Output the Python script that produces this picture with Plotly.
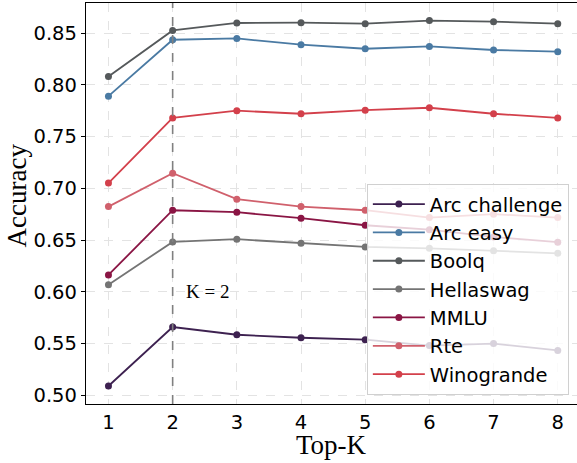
import plotly.graph_objects as go

top_k = [1, 2, 3, 4, 5, 6, 7, 8]
arc_challenge = [0.509, 0.566, 0.5585, 0.5556, 0.5537, 0.548, 0.550, 0.5434]
arc_easy = [0.789, 0.8435, 0.8448, 0.8387, 0.8348, 0.837, 0.8336, 0.832]
boolq = [0.808, 0.8525, 0.8597, 0.860, 0.859, 0.862, 0.861, 0.859]
hellaswag = [0.6069, 0.6482, 0.6508, 0.6469, 0.6433, 0.642, 0.6397, 0.6372]
mmlu = [0.6163, 0.6788, 0.6769, 0.6711, 0.6643, 0.660, 0.653, 0.6479]
rte = [0.6823, 0.7146, 0.6895, 0.6823, 0.6788, 0.6717, 0.675, 0.6717]
winogrande = [0.705, 0.768, 0.775, 0.772, 0.7755, 0.7778, 0.772, 0.768]

names = ["Arc challenge", "Arc easy", "Boolq", "Hellaswag", "MMLU", "Rte", "Winogrande"]
series = [arc_challenge, arc_easy, boolq, hellaswag, mmlu, rte, winogrande]
colors = ["#3d2150", "#4a7aa3", "#55595b", "#747474", "#8a1544", "#d0606c", "#d3404b"]

y_ticks = [0.50, 0.55, 0.60, 0.65, 0.70, 0.75, 0.80, 0.85]

fig = go.Figure()
for n, s, c in zip(names, series, colors):
    fig.add_trace(go.Scatter(
        x=top_k, y=s, name=n, mode="lines+markers",
        line=dict(color=c, width=1.8),
        marker=dict(color=c, size=7),
    ))

fig.add_vline(x=2, line=dict(color="#808080", width=1.6, dash="dash"))
fig.add_annotation(x=2.17, y=0.600, text="K = 2", showarrow=False,
                   xanchor="left", yanchor="middle",
                   font=dict(family="Liberation Serif", size=19, color="black"))
fig.add_annotation(x=0.5, y=-0.103, xref="paper", yref="paper", text="Top-K",
                   showarrow=False, xanchor="center", yanchor="middle",
                   font=dict(family="Liberation Serif", size=27, color="black"))
fig.add_annotation(x=-0.1405, y=0.52, xref="paper", yref="paper", text="Accuracy",
                   showarrow=False, xanchor="center", yanchor="middle", textangle=-90,
                   font=dict(family="Liberation Serif", size=27, color="black"))

fig.update_layout(
    width=577, height=463,
    margin=dict(l=86, r=0, t=3, b=59),
    paper_bgcolor="white", plot_bgcolor="white",
    font=dict(family="DejaVu Sans", size=19.5, color="black"),
    legend=dict(
        x=0.572, y=0.549, xanchor="left", yanchor="top",
        bgcolor="rgba(255,255,255,0.8)", bordercolor="#d0d0d0", borderwidth=1,
        font=dict(family="DejaVu Sans", size=19.5, color="black"),
        itemwidth=52,
    ),
    xaxis=dict(
        range=[0.65, 8.30], tickvals=top_k, ticktext=[str(v) for v in top_k],
        showline=True, linecolor="black", linewidth=1.3, mirror=True,
        ticks="", ticklen=0,
        showgrid=True, gridcolor="#e3e3e3", griddash="dash", gridwidth=1,
        zeroline=False, automargin=False,
        tickfont=dict(family="DejaVu Sans", size=19.5),
    ),
    yaxis=dict(
        range=[0.4916, 0.879], tickvals=y_ticks,
        ticktext=["%.2f" % v for v in y_ticks],
        showline=True, linecolor="black", linewidth=1.3, mirror=False,
        ticks="outside", ticklen=4, tickcolor="black",
        showgrid=True, gridcolor="#e3e3e3", griddash="dash", gridwidth=1,
        zeroline=False, automargin=False,
        tickfont=dict(family="DejaVu Sans", size=19.5),
    ),
)

fig.write_html("out.html", config={"displayModeBar": False},
               post_script="document.body.style.margin='0';")
